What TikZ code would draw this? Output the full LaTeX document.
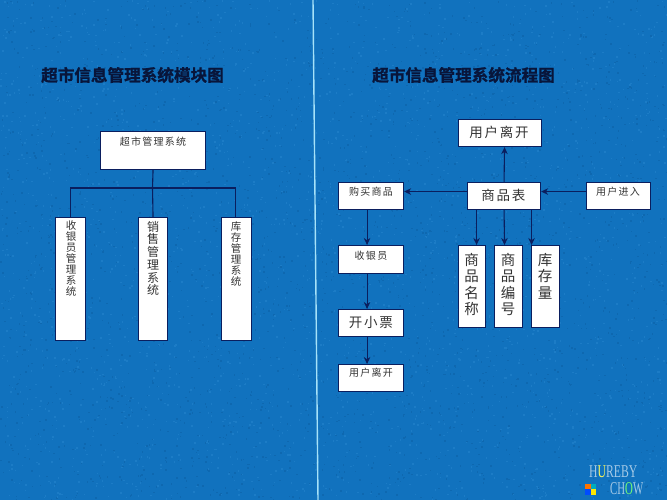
\documentclass[tikz,border=0pt]{standalone}
\usepackage{fontspec}
\usetikzlibrary{arrows.meta}
\newfontfamily\cjk{Noto Sans CJK SC}
\newfontfamily\cjkw[LetterSpace=13]{Noto Sans CJK SC}
\newfontfamily\cjkb[FakeBold=1.2]{Noto Sans CJK SC Bold}
\setmainfont{Liberation Serif}
\definecolor{bg}{HTML}{1172BE}
\definecolor{grainD}{HTML}{0E68B0}
\definecolor{grainL}{HTML}{1C7CC6}
\definecolor{navy}{HTML}{0A1E5E}
\definecolor{ink}{HTML}{333333}
\definecolor{ttl}{HTML}{08153A}
\tikzset{
  x=1pt,y=-1pt,
  boxn/.style={draw=navy,fill=white,line width=1.1pt,inner sep=0pt,anchor=north west},
  lab/.style={text=ink,inner sep=0pt,align=center},
  small/.style={lab,font=\cjkw\fontsize{10}{10}\selectfont},
  large/.style={lab,font=\cjkw\fontsize{13.5}{13.5}\selectfont},
  vsmall/.style={lab,anchor=north,font=\cjk\fontsize{10.5}{11}\selectfont},
  vmid/.style={lab,anchor=north,font=\cjk\fontsize{12}{12.7}\selectfont},
  vlarge/.style={lab,anchor=north,font=\cjk\fontsize{14.5}{16.5}\selectfont},
  ttlt/.style={text=ttl,inner sep=0pt,font=\cjkb\fontsize{16.6}{17}\selectfont},
  conn/.style={draw=navy,line width=1.1pt},
  arr/.style={conn,-{Stealth[length=7pt,width=6.5pt]}},
  wm/.style={anchor=west,inner sep=0pt,text=white!62!bg,font=\fontsize{18}{18}\selectfont}
}
\newcommand{\bx}[5]{\node[boxn,minimum width=#4 pt,minimum height=#5 pt] (#1) at (#2,#3) {};}
\begin{document}
\begin{tikzpicture}
\useasboundingbox (0,0) rectangle (667,500);
\fill[bg] (0,0) rectangle (667,500);
\pgfmathsetseed{42}
\foreach \i in {1,...,5000}{
  \pgfmathsetmacro{\px}{rnd*667}
  \pgfmathsetmacro{\py}{rnd*500}
  \pgfmathsetmacro{\pc}{rnd}
  \ifdim\pc pt<0.5pt
    \fill[grainD] (\px,\py) rectangle +(1.5,1.5);
  \else
    \fill[grainL] (\px,\py) rectangle +(1.5,1.5);
  \fi
}
\coordinate (divA) at (313,0);
\coordinate (divB) at (318,500);
\draw[color=white!65!cyan,line width=1.4pt] (divA) -- (divB);

\node[ttlt,anchor=west] (t1) at (41,75) {超市信息管理系统模块图};
\node[ttlt,anchor=west] (t2) at (372,75) {超市信息管理系统流程图};

% left chart
\bx{top}{100}{131}{105}{38}
\bx{c1}{55}{217}{30}{123}
\bx{c2}{138}{217}{29}{123}
\bx{c3}{221}{217}{30}{123}
\coordinate (bus) at (152.5,188);
\draw[conn] (top.south) -- (bus);
\draw[conn] (bus) -- (c2.north);
\draw[conn] (c1.north) |- (bus);
\draw[conn] ([xshift=-1pt]c3.north) |- (bus);
\node[small] (l0) at (153,142) {超市管理系统};
\node[vsmall] (l1) at (71,220) {收\\银\\员\\管\\理\\系\\统};
\node[vmid] (l2) at (153,221) {销\\售\\管\\理\\系\\统};
\node[vsmall] (l3) at (236,221) {库\\存\\管\\理\\系\\统};

% right chart
\bx{leave}{458}{119}{83}{27}
\bx{tbl}{467}{182}{73}{27}
\bx{buy}{338}{182}{65}{27}
\bx{enter}{586}{182}{64}{27}
\bx{cash}{338}{245}{65}{28}
\bx{ticket}{338}{309}{65}{27}
\bx{out}{338}{364}{65}{27}
\bx{nm}{458}{245}{27}{82}
\bx{no}{494}{245}{28}{82}
\bx{qty}{531}{245}{28}{82}

\draw[arr] (tbl.north) -- ([xshift=4.5pt]leave.south);
\draw[arr] ([yshift=4.5pt]tbl.west) -- ([yshift=4.5pt]buy.east);
\draw[arr] ([yshift=4.5pt]enter.west) -- ([yshift=4.5pt]tbl.east);
\draw[arr] ([xshift=-27.5pt]tbl.south) -- ([xshift=4.5pt]nm.north);
\draw[arr] (tbl.south) -- ([xshift=-4pt]no.north);
\draw[arr] ([xshift=27.5pt]tbl.south) -- ([xshift=-14pt]qty.north);
\draw[arr] ([xshift=-4pt]buy.south) -- ([xshift=-4pt]cash.north);
\draw[arr] ([xshift=-4pt]cash.south) -- ([xshift=-4pt]ticket.north);
\draw[arr] ([xshift=-4pt]ticket.south) -- ([xshift=-4pt]out.north);

\node[large] (l4) at (499,132) {用户离开};
\node[large] (l5) at (503.5,195) {商品表};
\node[small] (l6) at (371,192) {购买商品};
\node[small] (l7) at (618,192) {用户进入};
\node[small] (l8) at (371,256) {收银员};
\node[large] (l9) at (371,322) {开小票};
\node[small] (l10) at (371,373) {用户离开};
\node[vlarge] (l11) at (471.5,253) {商\\品\\名\\称};
\node[vlarge] (l12) at (508,253) {商\\品\\编\\号};
\node[vlarge] (l13) at (545,253) {库\\存\\量};

% watermark
\node[wm] (w1) at (589,472) {\scalebox{.65}[1]{H\textcolor{yellow!65!white}{U}REBY}};
\node[wm] (w2) at (610,489) {\scalebox{.6}[1]{CH\textcolor{green!55!white}{O}W}};
\fill[orange!90!red] (585,484) rectangle (590.5,489);
\fill[cyan!70!green] (590.5,484) rectangle (596,489);
\fill[blue!70!cyan] (585,489) rectangle (590.5,495);
\fill[yellow!90!orange] (590.5,489) rectangle (596,495);
\end{tikzpicture}
\end{document}
